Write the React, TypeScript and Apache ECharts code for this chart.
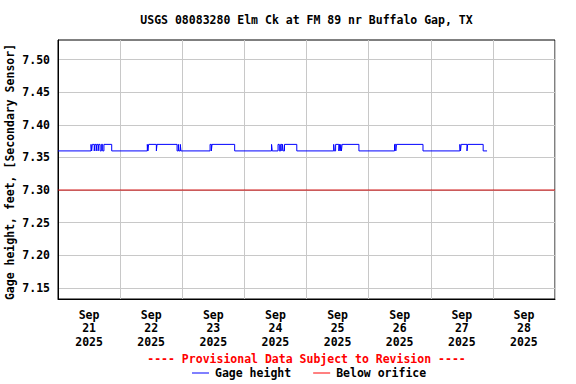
import React, { useEffect, useRef } from "react";
import * as echarts from "echarts";

const chartTitle = "USGS 08083280 Elm Ck at FM 89 nr Buffalo Gap, TX";
const provisionalNote = "---- Provisional Data Subject to Revision ----";
const yAxisName = "Gage height, feet, [Secondary Sensor]";
const yTicks = [7.15, 7.2, 7.25, 7.3, 7.35, 7.4, 7.45, 7.5];
const yMin = 7.133;
const yMax = 7.53;
const xMaxHours = 192; // Sep 21 00:00 .. Sep 29 00:00
const dayLabels = [
  "Sep\n21\n2025",
  "Sep\n22\n2025",
  "Sep\n23\n2025",
  "Sep\n24\n2025",
  "Sep\n25\n2025",
  "Sep\n26\n2025",
  "Sep\n27\n2025",
  "Sep\n28\n2025",
];
const labelHours = [12, 36, 60, 84, 108, 132, 156, 180];

// Gage height change points (day hh:mm in Sep 2025) and the value held from then on
const changeTimes = [
  "21 00:00", "21 12:45", "21 13:00", "21 13:15", "21 14:00", "21 14:15", "21 14:45",
  "21 15:00", "21 15:30", "21 15:45", "21 16:15", "21 16:45", "21 17:15", "21 17:45", "21 20:45",
  "22 10:30", "22 10:45", "22 11:00", "22 14:00", "22 14:15", "22 22:00", "22 22:30",
  "22 22:45", "22 23:15", "22 23:30",
  "23 10:45", "23 11:15", "23 11:30", "23 20:15",
  "24 10:30", "24 10:45", "24 13:00", "24 13:30", "24 14:00", "24 14:30", "24 14:45",
  "24 15:00", "24 15:30", "24 20:15",
  "25 10:30", "25 10:45", "25 11:15", "25 12:30", "25 12:45", "25 13:00", "25 13:15",
  "25 13:30", "25 13:45", "25 20:15",
  "26 10:00", "26 10:30", "26 10:45", "26 21:00",
  "27 11:15", "27 11:30", "27 11:45", "27 14:00", "27 14:15", "27 20:15", "27 21:45",
];
const changeValues = [
  7.36, 7.37, 7.36, 7.37, 7.36, 7.37, 7.36,
  7.37, 7.36, 7.37, 7.36, 7.37, 7.36, 7.37, 7.36,
  7.37, 7.36, 7.37, 7.36, 7.37, 7.36, 7.37,
  7.36, 7.37, 7.36,
  7.37, 7.36, 7.37, 7.36,
  7.37, 7.36, 7.37, 7.36, 7.37, 7.36, 7.37,
  7.36, 7.37, 7.36,
  7.37, 7.36, 7.37, 7.36, 7.37, 7.36, 7.37,
  7.36, 7.37, 7.36,
  7.37, 7.36, 7.37, 7.36,
  7.37, 7.36, 7.37, 7.36, 7.37, 7.36, 7.36,
];
const orificeLevel = 7.3;

const toHours = (s: string) => {
  const [d, hm] = s.split(" ");
  const [h, m] = hm.split(":").map(Number);
  return (Number(d) - 21) * 24 + h + m / 60;
};

const FONT = "DejaVu Sans Mono";

export default function App() {
  const ref = useRef<HTMLDivElement>(null);
  useEffect(() => {
    if (!ref.current) return;
    const chart = echarts.init(ref.current, null, { renderer: "svg" });
    const gageData = changeTimes.map((t, i) => [toHours(t), changeValues[i]]);
    const textStyle = { fontFamily: FONT, fontWeight: "bold" as const, fontSize: 11.5, color: "#000" };
    chart.setOption({
      animation: false,
      backgroundColor: "#fff",
      grid: {
        left: 58,
        right: 21,
        top: 40,
        bottom: 85,
        show: true,
        borderColor: "#000",
        borderWidth: 1,
        containLabel: false,
        outerBoundsMode: "none",
      },
      graphic: [
        {
          type: "text",
          x: 306.5,
          y: 20,
          style: {
            text: chartTitle,
            align: "center",
            verticalAlign: "middle",
            font: `bold 11.5px "${FONT}"`,
            fill: "#000",
          },
        },
        {
          type: "text",
          x: 10,
          y: 172,
          rotation: Math.PI / 2,
          style: {
            text: yAxisName,
            align: "center",
            verticalAlign: "middle",
            font: `bold 11.5px "${FONT}"`,
            fill: "#000",
          },
        },
        {
          type: "text",
          x: 306.5,
          y: 359,
          style: {
            text: provisionalNote,
            align: "center",
            verticalAlign: "middle",
            font: `bold 11.5px "${FONT}"`,
            fill: "#ff0000",
          },
        },
      ],
      legend: {
        left: 192,
        top: 367,
        padding: 0,
        icon: "rect",
        itemWidth: 17,
        itemHeight: 1,
        itemGap: 22,
        textStyle: { ...textStyle, padding: [0, 0, 0, 1] },
        data: [
          { name: "Gage height", itemStyle: { color: "#0000ff" } },
          { name: "Below orifice", itemStyle: { color: "#ff0000" } },
        ],
      },
      xAxis: {
        type: "value",
        min: 0,
        max: xMaxHours,
        interval: 24,
        axisLine: { show: true, lineStyle: { color: "#000" } },
        axisTick: { show: false },
        splitLine: { show: true, lineStyle: { color: "#c8c8c8", width: 1 } },
        axisLabel: {
          customValues: labelHours,
          formatter: (v: number) => {
            const i = labelHours.indexOf(Math.round(v));
            return i >= 0 ? dayLabels[i] : "";
          },
          ...textStyle,
          lineHeight: 13.4,
          margin: 9,
        },
      },
      yAxis: {
        type: "value",
        min: yMin,
        max: yMax,
        axisLine: { show: true, lineStyle: { color: "#000" } },
        axisTick: { show: false, customValues: yTicks },
        splitLine: { show: true, lineStyle: { color: "#c8c8c8", width: 1 } },
        axisLabel: {
          customValues: yTicks,
          formatter: (v: number) => v.toFixed(2),
          ...textStyle,
          margin: 8,
        },
      },
      series: [
        {
          name: "Gage height",
          type: "line",
          step: "end",
          symbol: "none",
          data: gageData,
          lineStyle: { color: "#0000ff", width: 1 },
          itemStyle: { color: "#0000ff" },
          z: 3,
        },
        {
          name: "Below orifice",
          type: "line",
          symbol: "none",
          data: [
            [0, orificeLevel],
            [xMaxHours, orificeLevel],
          ],
          lineStyle: { color: "#cc0000", width: 1 },
          itemStyle: { color: "#cc0000" },
          z: 2,
        },
      ],
    });
    return () => chart.dispose();
  }, []);
  return (
    <div
      ref={ref}
      style={{ position: "fixed", left: 0, top: 0, width: 576, height: 384 }}
    />
  );
}
